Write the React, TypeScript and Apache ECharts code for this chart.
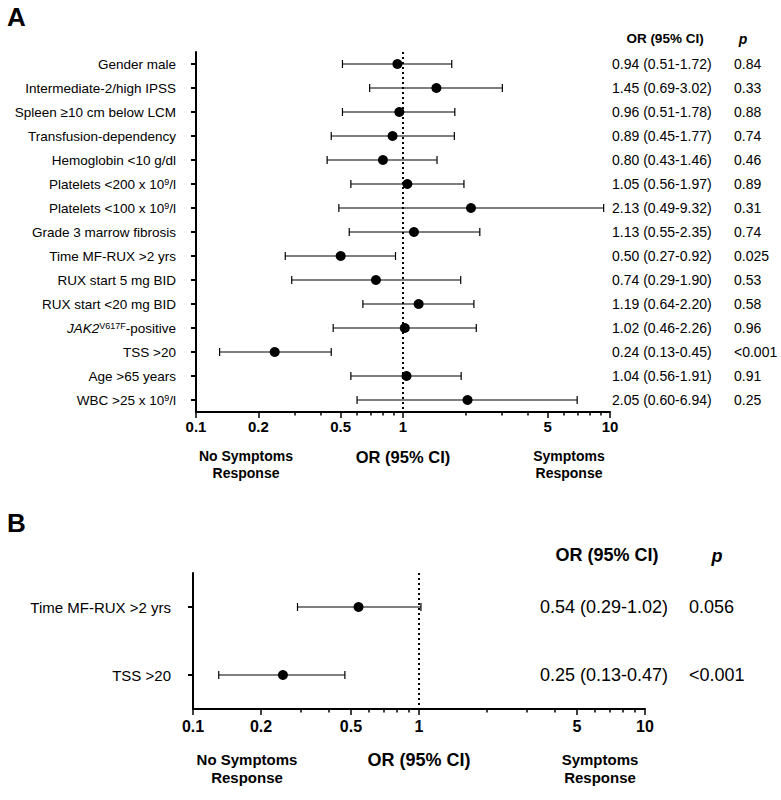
import React, { useEffect, useRef } from 'react';
import * as echarts from 'echarts';

// ---------- Panel A data ----------
const rowsA = [
  'Gender male',
  'Intermediate-2/high IPSS',
  'Spleen ≥10 cm below LCM',
  'Transfusion-dependency',
  'Hemoglobin <10 g/dl',
  'Platelets <200 x 10^9/l',
  'Platelets <100 x 10^9/l',
  'Grade 3 marrow fibrosis',
  'Time MF-RUX >2 yrs',
  'RUX start 5 mg BID',
  'RUX start <20 mg BID',
  'JAK2^V617F-positive',
  'TSS >20',
  'Age >65 years',
  'WBC >25 x 10^9/l',
];
const orA = [0.94, 1.45, 0.96, 0.89, 0.8, 1.05, 2.13, 1.13, 0.5, 0.74, 1.19, 1.02, 0.24, 1.04, 2.05];
const loA = [0.51, 0.69, 0.51, 0.45, 0.43, 0.56, 0.49, 0.55, 0.27, 0.29, 0.64, 0.46, 0.13, 0.56, 0.6];
const hiA = [1.72, 3.02, 1.78, 1.77, 1.46, 1.97, 9.32, 2.35, 0.92, 1.9, 2.2, 2.26, 0.45, 1.91, 6.94];
const pA = ['0.84', '0.33', '0.88', '0.74', '0.46', '0.89', '0.31', '0.74', '0.025', '0.53', '0.58', '0.96', '<0.001', '0.91', '0.25'];

// ---------- Panel B data ----------
const rowsB = ['Time MF-RUX >2 yrs', 'TSS >20'];
const orB = [0.54, 0.25];
const loB = [0.29, 0.13];
const hiB = [1.02, 0.47];
const pB = ['0.056', '<0.001'];

// ---------- Axis ticks ----------
const majorTicks = [0.1, 0.2, 0.5, 1, 5, 10];
const minorTicks = [0.3, 0.4, 0.6, 0.7, 0.8, 0.9, 2, 3, 4, 6, 7, 8, 9];

const FONT = 'Liberation Sans, Arial, Helvetica, sans-serif';

const ciText = (o: number, l: number, h: number) =>
  `${o.toFixed(2)} (${l.toFixed(2)}-${h.toFixed(2)})`;

const richLabel = (v: string) =>
  v.replace(/^JAK2\^([A-Za-z0-9]+)/, '{it|JAK2}{sup|$1}').replace(/\^(\d+)/, '{sup|$1}');

const fmtTick = (v: number) => String(+(+v).toPrecision(6));

// tick-only helper axis in log10 space (same span as the log axis: 10^-1 .. 10^1)
const tickAxis = (g: number, values: number[], len: number) => ({
  type: 'value', min: Math.log10(majorTicks[0]), max: Math.log10(majorTicks[majorTicks.length - 1]),
  gridIndex: g, position: 'bottom',
  axisLine: { show: false, onZero: false },
  axisTick: { show: true, customValues: values.map((v) => Math.log10(v)), length: len, lineStyle: { color: '#000', width: 1.5 } },
  axisLabel: { show: false },
  splitLine: { show: false },
});

function buildPanel(cfg: any) {
  const { g, xi, yi, rows, or, lo, hi, p, labelSize, tickSize, ciSize, ciOffset, pOffset, labelMargin, tickMargin, nameSize, nameGap, majorLen, minorLen } = cfg;
  const xAxis = [
    {
      type: 'log', logBase: 10, min: 0.1, max: 10, gridIndex: g, position: 'bottom',
      axisLine: { show: true, onZero: false, lineStyle: { color: '#000', width: 2 } },
      axisTick: { show: false },
      axisLabel: { show: true, customValues: majorTicks, formatter: fmtTick, color: '#000', fontWeight: 'bold', fontSize: tickSize, margin: tickMargin, fontFamily: FONT },
      splitLine: { show: false }, minorTick: { show: false },
      name: 'OR (95% CI)', nameLocation: 'middle', nameGap,
      nameTextStyle: { color: '#000', fontWeight: 'bold', fontSize: nameSize, fontFamily: FONT },
      z: 5,
    },
    tickAxis(g, minorTicks, minorLen),
    tickAxis(g, majorTicks, majorLen),
  ];
  const yAxis = [
    {
      type: 'category', gridIndex: g, data: rows, inverse: true, position: 'left',
      axisLine: { show: true, onZero: false, lineStyle: { color: '#000', width: 2 } },
      axisTick: { show: true, alignWithLabel: true, length: 5, interval: 0, lineStyle: { color: '#000', width: 2 } },
      axisLabel: {
        interval: 0, margin: labelMargin, color: '#000', fontSize: labelSize, fontFamily: FONT,
        formatter: (v: string) => richLabel(v),
        rich: {
          sup: { fontSize: Math.round(labelSize * 0.68), verticalAlign: 'top', color: '#000', fontFamily: FONT },
          it: { fontSize: labelSize, fontStyle: 'italic', color: '#000', fontFamily: FONT },
        },
      },
      splitLine: { show: false },
    },
    {
      type: 'category', gridIndex: g, data: rows, inverse: true, position: 'right', offset: ciOffset,
      axisLine: { show: false, onZero: false }, axisTick: { show: false },
      axisLabel: {
        interval: 0, margin: 0, align: 'left', color: '#000', fontSize: ciSize, fontFamily: FONT,
        formatter: (_v: string, i: number) => ciText(or[i], lo[i], hi[i]),
      },
    },
    {
      type: 'category', gridIndex: g, data: rows, inverse: true, position: 'right', offset: pOffset,
      axisLine: { show: false, onZero: false }, axisTick: { show: false },
      axisLabel: {
        interval: 0, margin: 0, align: 'left', color: '#000', fontSize: ciSize, fontFamily: FONT,
        formatter: (_v: string, i: number) => p[i],
      },
    },
  ];
  const series = [
    {
      type: 'custom', xAxisIndex: xi, yAxisIndex: yi,
      encode: { x: [1, 2], y: 0 },
      data: rows.map((_r: string, i: number) => [i, lo[i], hi[i]]),
      renderItem: (_params: any, api: any) => {
        const y = api.value(0);
        const a = api.coord([api.value(1), y]);
        const b = api.coord([api.value(2), y]);
        const cap = 4;
        const style = { stroke: '#000', lineWidth: 1.2 };
        return {
          type: 'group',
          children: [
            { type: 'line', shape: { x1: a[0], y1: a[1], x2: b[0], y2: b[1] }, style },
            { type: 'line', shape: { x1: a[0], y1: a[1] - cap, x2: a[0], y2: a[1] + cap }, style },
            { type: 'line', shape: { x1: b[0], y1: b[1] - cap, x2: b[0], y2: b[1] + cap }, style },
          ],
        };
      },
      z: 3,
    },
    {
      type: 'scatter', xAxisIndex: xi, yAxisIndex: yi,
      symbol: 'circle', symbolSize: 10,
      itemStyle: { color: '#000', opacity: 1 },
      data: rows.map((r: string, i: number) => [or[i], r]),
      z: 4,
      markLine: {
        silent: true, symbol: 'none', label: { show: false },
        lineStyle: { color: '#000', type: [2, 3], width: 2, opacity: 1 },
        data: [{ xAxis: 1 }],
      },
    },
  ];
  return { xAxis, yAxis, series };
}

export default function App() {
  const ref = useRef<HTMLDivElement>(null);
  useEffect(() => {
    if (!ref.current) return;
    const chart = echarts.init(ref.current, undefined, { renderer: 'svg' });
    const A = buildPanel({
      g: 0, xi: 0, yi: 0, rows: rowsA, or: orA, lo: loA, hi: hiA, p: pA,
      labelSize: 13.5, tickSize: 15, ciSize: 14, ciOffset: 2, pOffset: 124,
      labelMargin: 20, tickMargin: 7, nameSize: 16.5, nameGap: 36, majorLen: 6, minorLen: 3.5,
    });
    const B = buildPanel({
      g: 1, xi: 3, yi: 3, rows: rowsB, or: orB, lo: loB, hi: hiB, p: pB,
      labelSize: 15, tickSize: 16, ciSize: 18, ciOffset: -105, pOffset: 44,
      labelMargin: 22, tickMargin: 9, nameSize: 18, nameGap: 42, majorLen: 6, minorLen: 3.5,
    });
    const txt = (text: string, x: number, y: number, font: string, align = 'center', va = 'middle', lineHeight?: number) => ({
      type: 'text', x, y, silent: true,
      style: { text, font, fill: '#000', align, verticalAlign: va, lineHeight },
    });
    chart.setOption({
      animation: false,
      backgroundColor: '#fff',
      textStyle: { fontFamily: FONT },
      grid: [
        { left: 196, top: 52, width: 414, height: 360 },
        { left: 193, top: 573, width: 452, height: 136 },
      ],
      xAxis: [...A.xAxis, ...B.xAxis],
      yAxis: [...A.yAxis, ...B.yAxis],
      series: [...A.series, ...B.series],
      graphic: [
        txt('A', 7, 4, `bold 26px ${FONT}`, 'left', 'top'),
        txt('B', 7, 510, `bold 26px ${FONT}`, 'left', 'top'),
        txt('OR (95% CI)', 665, 38, `bold 13.5px ${FONT}`),
        txt('p', 743, 39, `italic bold 14px ${FONT}`),
        txt('No Symptoms\nResponse', 246, 447.5, `bold 14px ${FONT}`, 'center', 'top', 17),
        txt('Symptoms\nResponse', 569, 447.5, `bold 14px ${FONT}`, 'center', 'top', 17),
        txt('OR (95% CI)', 607, 555, `bold 18px ${FONT}`),
        txt('p', 717, 556, `italic bold 18px ${FONT}`),
        txt('No Symptoms\nResponse', 247, 750, `bold 15px ${FONT}`, 'center', 'top', 18),
        txt('Symptoms\nResponse', 600, 750, `bold 15px ${FONT}`, 'center', 'top', 18),
      ],
    });
    return () => chart.dispose();
  }, []);
  return <div ref={ref} style={{ position: 'fixed', left: 0, top: 0, width: 781, height: 800 }} />;
}
